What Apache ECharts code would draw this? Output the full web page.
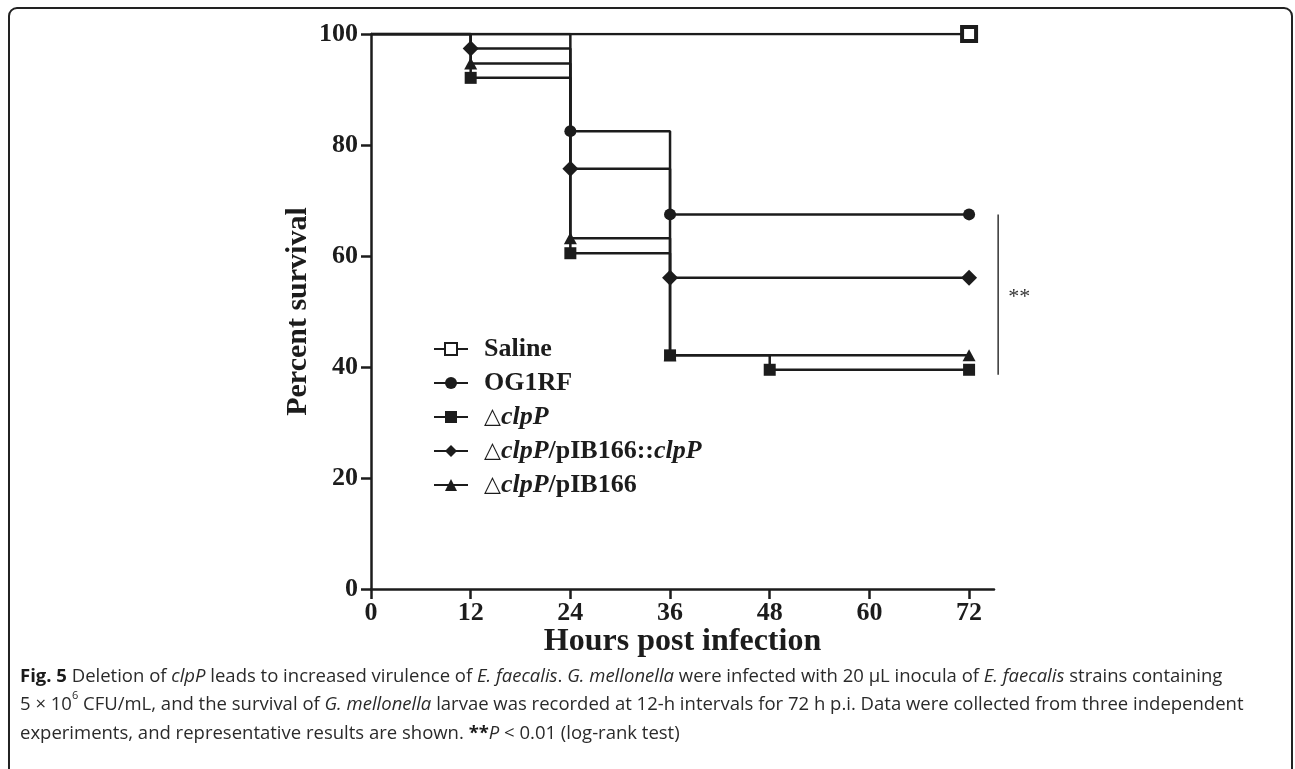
<!DOCTYPE html>
<html>
<head>
<meta charset="utf-8">
<style>
  html, body { margin: 0; padding: 0; background: #fff; }
  #main { width: 1295px; height: 769px; }
</style>
<script src="https://cdn.jsdelivr.net/npm/echarts@6/dist/echarts.min.js"></script>
</head>
<body>
<div id="main"></div>
<script>
// survival data, [hours, percent]
const seriesNames = ['Saline', 'OG1RF', '△clpP', '△clpP/pIB166::clpP', '△clpP/pIB166']
const salineData = [[0, 100], [72, 100]]
const og1rfData = [[0, 100], [24, 82.5], [36, 67.5], [72, 67.5]]
const clpPData = [[0, 100], [12, 92.1], [24, 60.5], [36, 42.1], [48, 39.5], [72, 39.5]]
const complData = [[0, 100], [12, 97.4], [24, 75.7], [36, 56.1], [72, 56.1]]
const vectorData = [[0, 100], [12, 94.7], [24, 63.2], [36, 42.1], [72, 42.1]]
const symbols = ['rect', 'circle', 'rect', 'diamond', 'triangle']
// significance bracket (x in hours, y range in percent)
const sigX = 75.5
const sigRange = [67.5, 38.6]
const sigText = '**'

const ink = '#1c1c1c'
const serif = '"Liberation Serif", "Times New Roman", serif'

const chart = echarts.init(document.getElementById('main'))

function stepSeries(name, data, symbol, i) {
  let size = 12
  if (symbol === 'diamond') size = [16, 16]
  if (symbol === 'triangle') size = [13, 12]
  if (i === 0) size = 14
  return {
    name: name,
    type: 'line',
    step: 'end',
    symbol: symbol,
    symbolSize: size,
    z: 10 - i,
    lineStyle: { color: ink, width: 2.5 },
    itemStyle: i === 0
      ? { color: '#fff', borderColor: ink, borderWidth: 4 }
      : { color: ink, borderColor: ink, borderWidth: 0 },
    emphasis: { disabled: true },
    // no marker at time 0
    data: data.map((p, k) => (k === 0 ? { value: p, symbol: 'none' } : p))
  }
}

// legend text: italic clpP
function legendLabel(name) {
  let out = ''
  let rest = name
  if (rest.startsWith('△')) {
    out += '{d|△}'
    rest = rest.slice(1)
  }
  const parts = rest.split('clpP')
  parts.forEach((p, k) => {
    if (p) out += '{b|' + p + '}'
    if (k < parts.length - 1) out += '{i|clpP}'
  })
  return out
}

const caption =
  '{fb|Fig. 5} Deletion of {i|clpP} leads to increased virulence of {i|E. faecalis}. {i|G. mellonella} were infected with 20 μL inocula of {i|E. faecalis} strains containing\n' +
  '5 × 10{sup|6} CFU/mL, and the survival of {i|G. mellonella} larvae was recorded at 12-h intervals for 72 h p.i. Data were collected from three independent\n' +
  'experiments, and representative results are shown. {fb|**}{i|P} < 0.01 (log-rank test)'

const capFont = '"Open Sans", "Noto Sans", sans-serif'
const capSize = 18.5

chart.setOption({
  animation: false,
  grid: { left: 371, right: 301, top: 34, bottom: 180 },
  xAxis: {
    type: 'value',
    min: 0,
    max: 75,
    interval: 12,
    name: 'Hours post infection',
    nameLocation: 'middle',
    nameGap: 37,
    nameMoveOverlap: false,
    nameTextStyle: { fontFamily: serif, fontWeight: 'bold', fontSize: 32, color: ink },
    axisLine: { lineStyle: { color: ink, width: 2.5 } },
    axisTick: { length: 10, lineStyle: { color: ink, width: 2.5 } },
    axisLabel: {
      margin: 11,
      fontFamily: serif,
      fontWeight: 'bold',
      fontSize: 26,
      color: ink,
      showMaxLabel: false
    },
    splitLine: { show: false }
  },
  yAxis: {
    type: 'value',
    min: 0,
    max: 100,
    interval: 20,
    name: 'Percent survival',
    nameLocation: 'middle',
    nameGap: 58,
    nameMoveOverlap: false,
    nameTextStyle: { fontFamily: serif, fontWeight: 'bold', fontSize: 30, color: ink },
    axisLine: { show: true, lineStyle: { color: ink, width: 2.5 } },
    axisTick: { show: true, length: 10, lineStyle: { color: ink, width: 2.5 } },
    axisLabel: { margin: 13, fontFamily: serif, fontWeight: 'bold', fontSize: 26, color: ink },
    splitLine: { show: false }
  },
  legend: {
    orient: 'vertical',
    left: 428,
    top: 331,
    itemWidth: 34,
    itemHeight: 15,
    itemGap: 8,
    selectedMode: false,
    data: seriesNames,
    formatter: legendLabel,
    textStyle: {
      color: ink,
      fontFamily: serif,
      fontWeight: 'bold',
      fontSize: 26,
      lineHeight: 26,
      padding: [0, 0, 0, 11],
      rich: {
        b: { fontFamily: serif, fontWeight: 'bold', fontSize: 26, color: ink },
        i: { fontFamily: serif, fontWeight: 'bold', fontStyle: 'italic', fontSize: 26, color: ink },
        d: { fontFamily: '"DejaVu Sans", sans-serif', fontWeight: 'normal', fontSize: 22, color: ink }
      }
    }
  },
  series: [
    stepSeries(seriesNames[0], salineData, symbols[0], 0),
    stepSeries(seriesNames[1], og1rfData, symbols[1], 1),
    stepSeries(seriesNames[2], clpPData, symbols[2], 2),
    stepSeries(seriesNames[3], complData, symbols[3], 3),
    stepSeries(seriesNames[4], vectorData, symbols[4], 4)
  ],
  graphic: [
    {
      id: 'frame',
      type: 'rect',
      silent: true,
      shape: { x: 9, y: 8, width: 1283, height: 800, r: 8 },
      style: { fill: 'none', stroke: '#222', lineWidth: 2 }
    },
    {
      id: 'caption',
      type: 'text',
      silent: true,
      style: {
        x: 20,
        y: 662,
        text: caption,
        fill: '#2a2a2a',
        fontFamily: capFont,
        fontSize: capSize,
        lineHeight: 28.5,
        rich: {
          fb: { fontFamily: capFont, fontWeight: 'bold', fontSize: capSize, lineHeight: 28.5, fill: '#1a1a1a' },
          i: { fontFamily: capFont, fontStyle: 'italic', fontSize: capSize, lineHeight: 28.5, fill: '#2a2a2a' },
          sup: { fontFamily: capFont, fontSize: 11, lineHeight: 28.5, verticalAlign: 'top', padding: [0, 0, 6, 0], fill: '#2a2a2a' }
        }
      }
    }
  ]
})

// significance bracket placed through the axes
const pTop = chart.convertToPixel({ gridIndex: 0 }, [sigX, sigRange[0]])
const pBot = chart.convertToPixel({ gridIndex: 0 }, [sigX, sigRange[1]])
chart.setOption({
  graphic: [
    {
      id: 'sigLine',
      type: 'line',
      silent: true,
      shape: { x1: pTop[0], y1: pTop[1], x2: pBot[0], y2: pBot[1] },
      style: { stroke: '#333', lineWidth: 1.5 }
    },
    {
      id: 'sigText',
      type: 'text',
      silent: true,
      style: {
        x: pTop[0] + 10,
        y: (pTop[1] + pBot[1]) / 2 + 3,
        text: sigText,
        verticalAlign: 'middle',
        fill: '#333',
        fontFamily: serif,
        fontSize: 22
      }
    }
  ]
})
</script>
</body>
</html>
